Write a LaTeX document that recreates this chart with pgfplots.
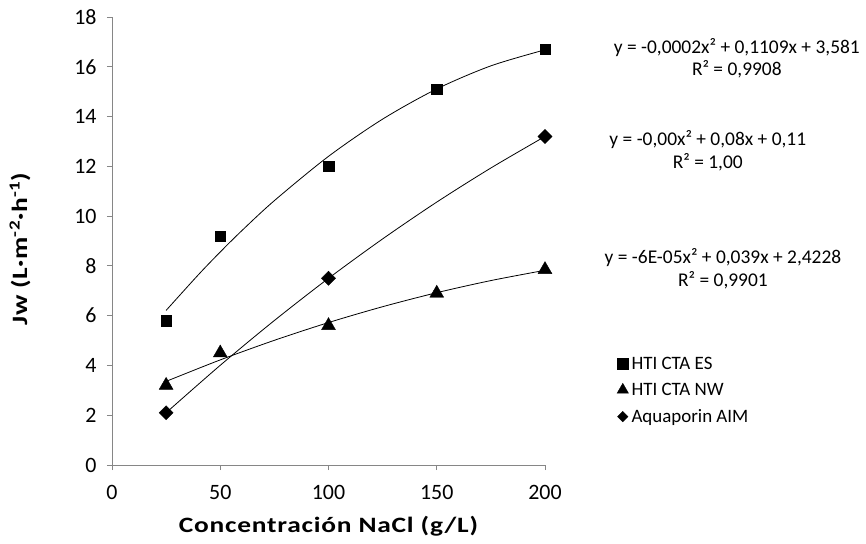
\documentclass[border=0pt]{standalone}
\usepackage{pgfplots}
\pgfplotsset{compat=1.18}
\usepackage{fontspec}
\setmainfont{Carlito}
\newfontfamily\titlefont{Carlito}[FakeStretch=1.25, LetterSpace=3.5]
\definecolor{axgray}{HTML}{868686}
\begin{document}
\begin{tikzpicture}
\useasboundingbox (-112bp,-79bp) rectangle (754bp,465bp);
\begin{axis}[
  scale only axis, width=433bp, height=448bp,
  xmin=0, xmax=200, ymin=0, ymax=18,
  xtick={0,50,...,200}, ytick={0,2,...,18},
  axis x line*=bottom, axis y line*=left,
  axis line style={axgray, line width=0.8bp},
  tick style={axgray, line width=0.8bp},
  tick align=outside, major tick length=5bp,
  /pgf/number format/assume math mode=true,
  tick label style={font=\fontsize{22}{22}\selectfont, black},
  yticklabel style={xshift=-7bp},
  xticklabel style={yshift=-12bp},
  xlabel={\titlefont\bfseries Concentración NaCl (g/L)},
  ylabel={\titlefont\bfseries Jw (L·m\textsuperscript{-2}·h\textsuperscript{-1})},
  xlabel style={font=\fontsize{22}{22}\selectfont, at={(axis description cs:0.5,0)}, anchor=center, yshift=-61bp},
  ylabel style={font=\fontsize{22}{22}\selectfont, at={(axis description cs:-0.2125,0.482)}, anchor=center},
  legend style={at={(axis description cs:1.166,0.242)}, anchor=north west, draw=none, fill=none,
    font=\fontsize{19}{19}\selectfont, row sep=12.5bp, inner sep=0pt, nodes={inner xsep=3bp, inner ysep=0pt}},
  legend cell align=left,
  clip=false,
]
% trendlines
\addplot[black, line width=0.8bp, smooth, forget plot] coordinates {
 (25,6.212) (40,7.654) (50,8.559) (60,9.418) (75,10.622) (100,12.401) (125,13.897) (150,15.109) (175,16.037) (200,16.681)};
\addplot[black, line width=0.8bp, smooth, forget plot] coordinates {
 (25,3.360) (50,4.223) (75,5.010) (100,5.723) (125,6.360) (150,6.923) (175,7.410) (200,7.823)};
\addplot[black, line width=0.8bp, smooth, forget plot] coordinates {
 (25,2.1) (50,4.006) (75,5.806) (100,7.5) (125,9.084) (150,10.563) (175,11.933) (200,13.2)};
% data
\addplot[only marks, mark=square*, mark size=5.3bp, black, forget plot] coordinates {
 (25,5.8) (50,9.2) (100,12.0) (150,15.1) (200,16.7)};
\addplot[only marks, mark=triangle*, mark size=8bp, black, forget plot] coordinates {
 (25,3.2) (50,4.5) (100,5.6) (150,6.9) (200,7.85)};
\addplot[only marks, mark=square*, mark size=5bp, mark options={rotate=45}, black, forget plot] coordinates {
 (25,2.1) (100,7.5) (200,13.2)};
% legend
\addlegendimage{only marks, mark=square*, mark size=5.3bp, black}
\addlegendentry{HTI CTA ES}
\addlegendimage{only marks, mark=triangle*, mark size=6.6bp, black}
\addlegendentry{HTI CTA NW}
\addlegendimage{only marks, mark=square*, mark size=3.7bp, mark options={rotate=45}, black}
\addlegendentry{Aquaporin AIM}
% equations
\node[align=center, font=\fontsize{19.5}{23}\selectfont] at (axis description cs:1.443,0.908) {y = -0,0002x² + 0,1109x + 3,581\\R² = 0,9908};
\node[align=center, font=\fontsize{19.5}{23}\selectfont] at (axis description cs:1.376,0.701) {y = -0,00x² + 0,08x + 0,11\\R² = 1,00};
\node[align=center, font=\fontsize{19.5}{23}\selectfont] at (axis description cs:1.411,0.439) {y = -6E-05x² + 0,039x + 2,4228\\R² = 0,9901};
\end{axis}
\end{tikzpicture}
\end{document}
